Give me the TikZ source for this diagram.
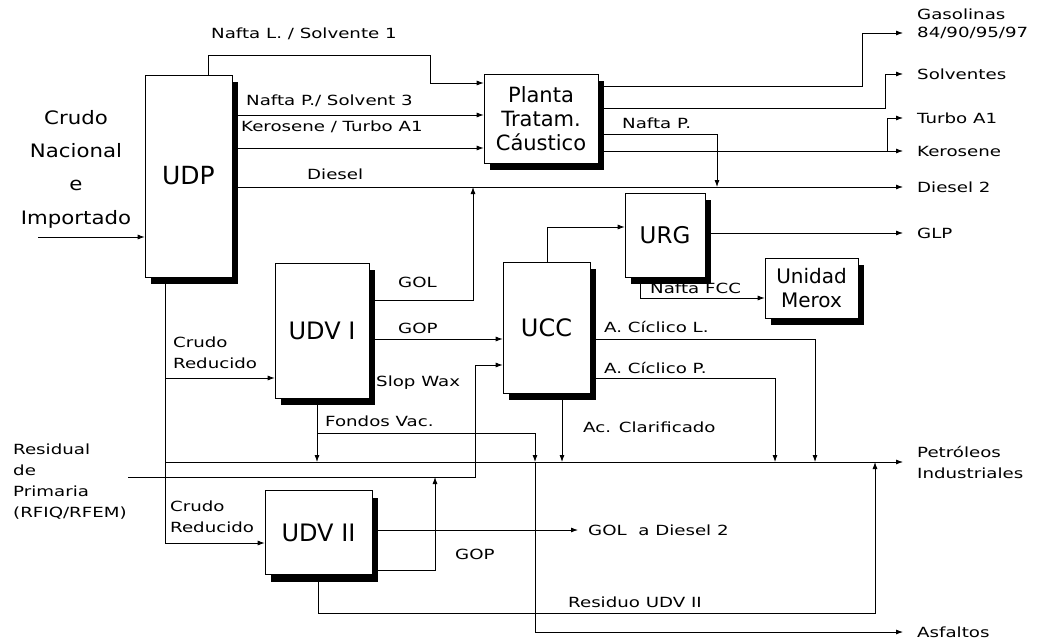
\documentclass[tikz,border=0pt]{standalone}
\usepackage{fontspec}
\setmainfont{DejaVu Sans}
\newfontfamily\lblfont[FakeStretch=1.3]{DejaVu Sans}
\newfontfamily\feedfont[FakeStretch=1.15]{DejaVu Sans}
\usetikzlibrary{arrows.meta, shadows}

\begin{document}
\begin{tikzpicture}[
    x=1pt, y=-1pt,
    unitbox/.style={draw, fill=white, line width=0.6pt, align=center, inner sep=0pt,
                    drop shadow={shadow xshift=6pt, shadow yshift=-7pt, fill=black, opacity=1}},
    lbl/.style={font=\lblfont\fontsize{14}{21}\selectfont, inner sep=0pt, align=left},
    prod/.style={lbl, anchor=west, inner xsep=14pt},
    pipe/.style={line width=0.8pt},
    >={Latex[length=7pt,width=5pt]}
  ]
    \fill[white] (0,0) rectangle (1040,642);
    \useasboundingbox (0,0) rectangle (1040,642);

    % units
    \node[unitbox, minimum width=87pt, minimum height=202pt, font=\fontsize{25}{30}\selectfont] (udp) at (188.5,176) {UDP};
    \node[unitbox, minimum width=114pt, minimum height=89pt, font=\fontsize{21}{24}\selectfont] (tratam) at (541,118.5) {Planta\\Tratam.\\Cáustico};
    \node[unitbox, minimum width=80pt, minimum height=84pt, font=\fontsize{23}{28}\selectfont] (urg) at (665,235) {URG};
    \node[unitbox, minimum width=93pt, minimum height=60pt, font=\fontsize{20}{24}\selectfont] (merox) at (811.5,288) {Unidad\\Merox};
    \node[unitbox, minimum width=87pt, minimum height=131pt, font=\fontsize{24}{28}\selectfont] (ucc) at (546.5,327.5) {UCC};
    \node[unitbox, minimum width=94pt, minimum height=135pt, font=\fontsize{24}{28}\selectfont] (udvi) at (322,330.5) {UDV I};
    \node[unitbox, minimum width=107pt, minimum height=84pt, font=\fontsize{24}{28}\selectfont] (udvii) at (318.5,532.5) {UDV II};

    % feeds
    \node[font=\feedfont\fontsize{18.5}{33.3}\selectfont, align=center, inner sep=0pt, anchor=north] (crudo) at (76,110) {Crudo\\Nacional\\e\\Importado};
    \node[lbl, anchor=north west] (resid) at (13,444) {Residual\\de\\Primaria\\(RFIQ/RFEM)};
    \coordinate (crin) at (38,237);
    \coordinate (rsd) at (128,477);
    \coordinate (pih) at (165,462);

    % products
    \node[lbl, anchor=base west] (gasl) at (917,20) {Gasolinas};
    \node[prod] (gas) at (903,33) {84/90/95/97};
    \node[prod] (solv) at (903,74) {Solventes};
    \node[prod] (turbo) at (903,118) {Turbo A1};
    \node[prod] (kero) at (903,151) {Kerosene};
    \node[prod] (dsl) at (903,187) {Diesel 2};
    \node[prod] (glp) at (903,233) {GLP};
    \node[prod] (petro) at (903,462) {Petróleos\\Industriales};
    \node[prod] (asf) at (903,632) {Asfaltos};
    \node[prod, inner xsep=10pt] (gold) at (578,530) {GOL\ \ a Diesel 2};

    % UDP
    \draw[pipe,->] (crin) -- (crin -| udp.west);
    \draw[pipe,->] (208,0 |- udp.north) -- (208,55) -- (430,55) -- (430,83) -- (tratam.west |- 0,83);
    \draw[pipe,->] (udp.east |- 0,115) -- (tratam.west |- 0,115);
    \draw[pipe,->] (udp.east |- 0,148) -- (tratam.west |- 0,148);
    \draw[pipe,->] (udp.east |- 0,187) -- (dsl.west);

    % tratamiento caustico
    \draw[pipe,->] (tratam.east |- 0,86) -- (862,86) -- (862,33) -- (gas.west);
    \draw[pipe,->] (tratam.east |- 0,108) -- (885,108) -- (885,74) -- (solv.west);
    \draw[pipe,->] (tratam.east |- 0,134) -- (717,134) -- (717,187);
    \draw[pipe,->] (tratam.east |- 0,151) -- (kero.west);
    \draw[pipe,->] (887,151) -- (887,118) -- (turbo.west);

    % vacio / craqueo
    \draw[pipe,->] (165,0 |- udp.south) -- (165,543) -- (udvii.west |- 0,543);
    \draw[pipe,->] (165,378) -- (udvi.west |- 0,378);
    \draw[pipe,->] (udvi.east |- 0,300) -- (473,300) -- (473,187);
    \draw[pipe,->] (udvi.east |- 0,339) -- (ucc.west |- 0,339);
    \draw[pipe,->] (rsd) -- (475,0 |- rsd) -- (475,365) -- (ucc.west |- 0,365);
    \draw[pipe,->] (547,0 |- ucc.north) -- (547,227) -- (urg.west |- 0,227);
    \draw[pipe,->] (urg.east |- 0,233) -- (glp.west);
    \draw[pipe,->] (640,0 |- urg.south) -- (640,298) -- (merox.west |- 0,298);
    \draw[pipe,->] (ucc.east |- 0,339) -- (815,339) -- (815,0 |- pih);
    \draw[pipe,->] (ucc.east |- 0,378) -- (775,378) -- (775,0 |- pih);
    \draw[pipe,->] (562,0 |- ucc.south) -- (562,0 |- pih);

    % fondos y residuos
    \draw[pipe,->] (pih) -- (petro.west);
    \draw[pipe,->] (317,0 |- udvi.south) -- (317,0 |- pih);
    \draw[pipe,->] (317,433) -- (535,433) -- (535,0 |- pih);
    \draw[pipe,->] (535,0 |- pih) -- (535,632) -- (asf.west);
    \draw[pipe,->] (udvii.east |- 0,530) -- (gold.west);
    \draw[pipe,->] (udvii.east |- 0,570) -- (435,570) -- (435,0 |- rsd);
    \draw[pipe,->] (318,0 |- udvii.south) -- (318,613) -- (875,613) -- (875,0 |- pih);

    % stream labels
    \node[lbl, anchor=base west] (lnl) at (211,38) {Nafta L. / Solvente 1};
    \node[lbl, anchor=base west] (lnp) at (246,105) {Nafta P./ Solvent 3};
    \node[lbl, anchor=base west] (lker) at (241,131) {Kerosene / Turbo A1};
    \node[lbl, anchor=base west] (ldsl) at (307,179) {Diesel};
    \node[lbl, anchor=base west] (lnp2) at (622,128) {Nafta P.};
    \node[lbl, anchor=base west] (lgol) at (398,287) {GOL};
    \node[lbl, anchor=base west] (lgop) at (398,333) {GOP};
    \node[lbl, anchor=base west] (lslop) at (376,386) {Slop Wax};
    \node[lbl, anchor=north west] (lcr1) at (173,337) {Crudo\\Reducido};
    \node[lbl, anchor=base west] (lfv) at (325,426) {Fondos Vac.};
    \node[lbl, anchor=base west] (lac) at (583,432) {Ac. Clarificado};
    \node[lbl, anchor=base west] (lacl) at (604,332) {A. Cíclico L.};
    \node[lbl, anchor=base west] (lacp) at (604,373) {A. Cíclico P.};
    \node[lbl, anchor=base west] (lfcc) at (650,293) {Nafta FCC};
    \node[lbl, anchor=north west] (lcr2) at (170,501) {Crudo\\Reducido};
    \node[lbl, anchor=base west] (lgop2) at (455,559) {GOP};
    \node[lbl, anchor=base west] (lres) at (568,607) {Residuo UDV II};
\end{tikzpicture}
\end{document}
